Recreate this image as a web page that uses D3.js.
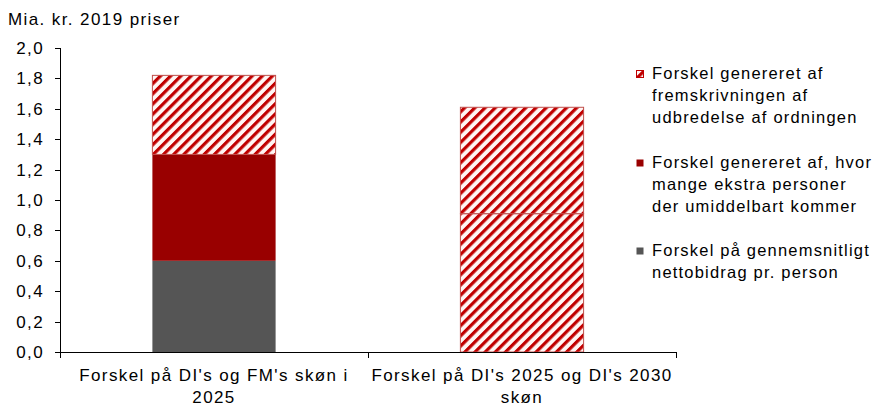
<!DOCTYPE html>
<meta charset="utf-8">
<style>
body { margin: 0; background: #fff; }
svg text { font-family: Arial, "Liberation Sans", sans-serif; fill: #000; font-size: 17px; letter-spacing: 1.4px; }
svg text.leg { font-size: 16.5px; letter-spacing: 1.2px; }
.axis path, .axis line { stroke: #000; stroke-width: 1; shape-rendering: crispEdges; }
</style>
<body>
<div id="chart"></div>
<script src="https://cdnjs.cloudflare.com/ajax/libs/d3/7.8.5/d3.min.js"></script>
<script>

// data
var categories = [["Forskel på DI's og FM's skøn i", "2025"], ["Forskel på DI's 2025 og DI's 2030", "skøn"]];
var gennemsnit = [0.60, 0];
var ekstraPersoner = [0.70, 0];
var fremskrivningA = [0, 0.91];   // lower hatched part of bar 2
var fremskrivning = [0.52, 0.70];
var yTicks = [0, 0.2, 0.4, 0.6, 0.8, 1.0, 1.2, 1.4, 1.6, 1.8, 2.0];
var yTitle = "Mia. kr. 2019 priser";
var legendItems = [
  {key: "frem", lines: ["Forskel genereret af", "fremskrivningen af", "udbredelse af ordningen"]},
  {key: "ekstra", lines: ["Forskel genereret af, hvor", "mange ekstra personer", "der umiddelbart kommer"]},
  {key: "gns", lines: ["Forskel på gennemsnitligt", "nettobidrag pr. person"]}
];

var largeur = 881, hauteur = 407;
var margin = {top: 48, right: 205, bottom: 55, left: 60};

var svg = d3.select("#chart").append("svg")
    .attr("width", largeur)
    .attr("height", hauteur);

// hachures
var defs = svg.append("defs");
var pat = defs.append("pattern")
    .attr("id", "hatch")
    .attr("patternUnits", "userSpaceOnUse")
    .attr("width", 7.2)
    .attr("height", 7.2)
    .attr("patternTransform", "rotate(45)");
pat.append("rect").attr("width", 7.2).attr("height", 7.2).attr("fill", "#fff6f4");
pat.append("rect").attr("x", 0).attr("width", 3.2).attr("height", 7.2).attr("fill", "#c00000");

var rows = categories.map(function(c, i) {
  return {cat: i, gns: gennemsnit[i], ekstra: ekstraPersoner[i], fremA: fremskrivningA[i], frem: fremskrivning[i]};
});
var keys = ["gns", "ekstra", "fremA", "frem"];
var fills = {gns: "#555555", ekstra: "#990000", fremA: "url(#hatch)", frem: "url(#hatch)"};

var stack = d3.stack().keys(keys)(rows);

var x = d3.scaleBand()
    .domain(categories.map(function(d, i) { return i; }))
    .range([margin.left, 676])
    .paddingInner(0.6)
    .paddingOuter(0.3);
var y = d3.scaleLinear()
    .domain([0, 2])
    .range([hauteur - margin.bottom, margin.top]);

// barres
stack.forEach(function(s) {
  svg.append("g").selectAll("rect")
    .data(s.filter(function(d) { return d[1] - d[0] > 0; }))
    .enter().append("rect")
      .attr("x", function(d) { return x(d.data.cat); })
      .attr("width", x.bandwidth())
      .attr("y", function(d) { return y(d[1]); })
      .attr("height", function(d) { return y(d[0]) - y(d[1]); })
      .attr("fill", fills[s.key])
      .attr("stroke", s.key.indexOf("frem") === 0 ? "#c0504d" : "none")
      .attr("stroke-width", 1);
});

// axe y
var yAxis = d3.axisLeft(y)
    .tickValues(yTicks)
    .tickSize(5)
    .tickPadding(11)
    .tickFormat(function(d) { return d3.format(".1f")(d).replace(".", ","); });
var gy = svg.append("g")
    .attr("class", "axis")
    .attr("transform", "translate(" + margin.left + ",0)")
    .call(yAxis);
gy.select(".domain").attr("d", "M0.5," + y(2) + "V" + y(0));
gy.selectAll("text").style("font-size", "17px").attr("font-family", null);

// axe x
var xEdges = d3.scaleLinear().domain([0, categories.length]).range([margin.left, 676]);
var gx = svg.append("g")
    .attr("class", "axis")
    .attr("transform", "translate(0," + y(0) + ")");
gx.append("line").attr("x1", margin.left).attr("x2", 676).attr("y1", 0.5).attr("y2", 0.5);
gx.selectAll(".tk").data(d3.range(categories.length + 1)).enter().append("line")
    .attr("x1", function(d) { return Math.round(xEdges(d)) + 0.5; })
    .attr("x2", function(d) { return Math.round(xEdges(d)) + 0.5; })
    .attr("y1", 0).attr("y2", 6);
categories.forEach(function(c, i) {
  var t = gx.append("text")
      .attr("text-anchor", "middle")
      .attr("x", xEdges(i + 0.5))
      .attr("y", 28.5);
  c.forEach(function(l, j) {
    t.append("tspan").attr("x", xEdges(i + 0.5)).attr("dy", j === 0 ? 0 : 22.5).text(l);
  });
});

// titre y
svg.append("text")
    .attr("x", 8)
    .attr("y", 24.5)
    .text(yTitle);

// légende
var legY = [79, 168, 256];
var swFill = {frem: "url(#hatch)", ekstra: "#990000", gns: "#555555"};
legendItems.forEach(function(item, i) {
  svg.append("rect")
      .attr("x", 636.5).attr("y", legY[i] - 8.5)
      .attr("width", 7).attr("height", 7)
      .attr("fill", swFill[item.key])
      .attr("stroke", item.key === "frem" ? "#c00000" : "none");
  var t = svg.append("text")
      .attr("class", "leg")
      .attr("x", 652)
      .attr("y", legY[i]);
  item.lines.forEach(function(l, j) {
    t.append("tspan").attr("x", 652).attr("dy", j === 0 ? 0 : 22).text(l);
  });
});

</script>
</body>
